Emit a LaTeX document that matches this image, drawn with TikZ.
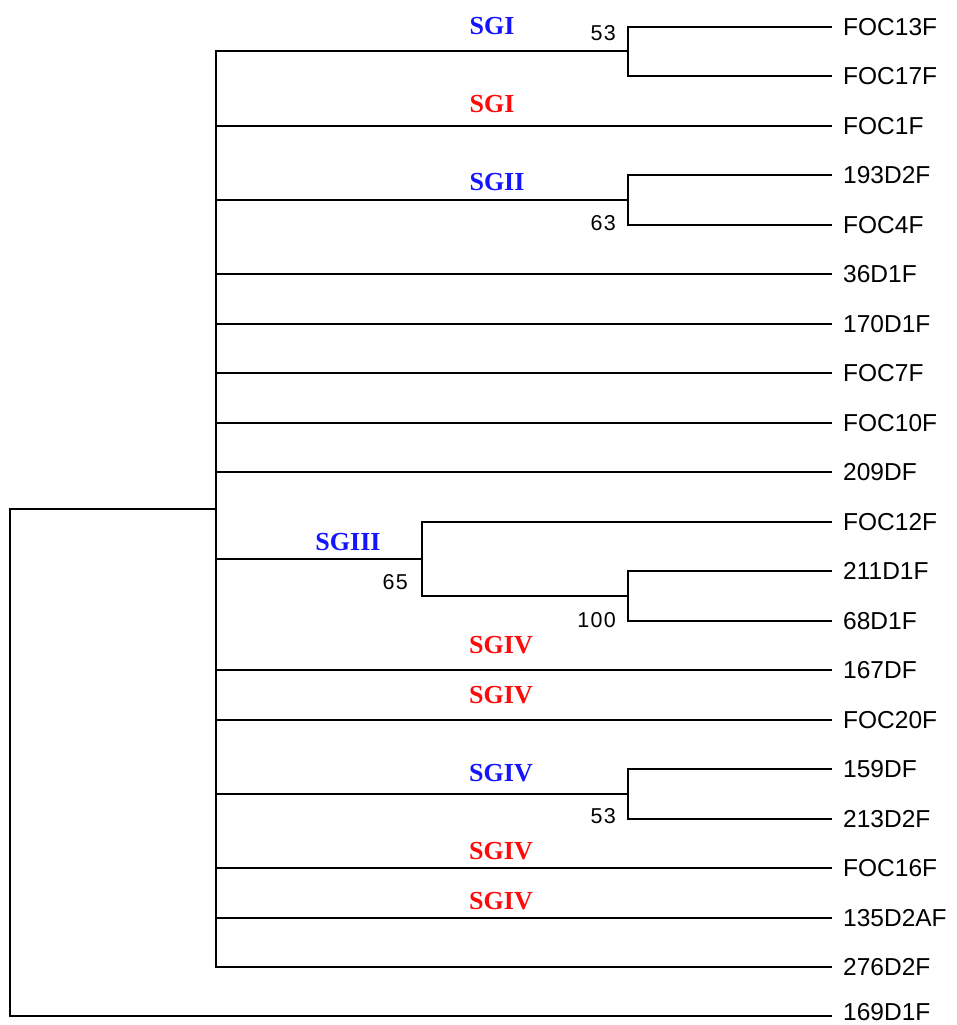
\documentclass[tikz,border=0pt]{standalone}
\usepackage{fontspec}
\setmainfont{Liberation Sans}
\newfontfamily\leaffont{Liberation Sans}
\newfontfamily\bootfont[LetterSpace=6]{Liberation Sans}
\newfontfamily\sgfont{Liberation Serif}
\definecolor{sgblue}{RGB}{20,20,255}
\definecolor{sgred}{RGB}{255,10,10}
\tikzset{
  br/.style={draw=black, line width=2pt},
  leaf/.style={anchor=west, inner sep=0pt, font=\leaffont\fontsize{24.5}{24.5}\selectfont},
  boot/.style={anchor=base east, inner sep=0pt, font=\bootfont\fontsize{21.5}{21.5}\selectfont},
  sgb/.style={anchor=base, inner sep=0pt, text=sgblue, font=\sgfont\bfseries\fontsize{26}{26}\selectfont},
  sgr/.style={anchor=base, inner sep=0pt, text=sgred, font=\sgfont\bfseries\fontsize{26}{26}\selectfont}
}
\begin{document}
\begin{tikzpicture}[x=1pt,y=-1pt]
\useasboundingbox[fill=white] (0,0) rectangle (956,1025);
% tips
\foreach \i/\lab in {0/FOC13F,1/FOC17F,2/FOC1F,3/193D2F,4/FOC4F,5/36D1F,6/170D1F,7/FOC7F,8/FOC10F,9/209DF,10/FOC12F,11/211D1F,12/68D1F,13/167DF,14/FOC20F,15/159DF,16/213D2F,17/FOC16F,18/135D2AF,19/276D2F}{
  \coordinate (t\i) at (832,{26.7+49.5*\i});
  \node[leaf] (n\i) at (843,{26.7+49.5*\i}) {\lab};
}
\coordinate (tout) at (832,1016);
\node[leaf] (nout) at (843,1012) {169D1F};
% internal nodes
\coordinate (a1) at (628,{26.7+49.5*0.5});
\coordinate (a2) at (628,{26.7+49.5*3.5});
\coordinate (a3) at (628,{26.7+49.5*11.5});
\coordinate (a4) at (628,{26.7+49.5*15.5});
\coordinate (s3) at (422,{(26.7+49.5*10 + 26.7+49.5*11.5)/2});
\coordinate (m) at (216,{(26.7+49.5*0.5 + 26.7+49.5*19)/2});
\coordinate (r) at (10,{((26.7+49.5*0.5 + 26.7+49.5*19)/2 + 1016)/2});
% branches
\draw[br] (a1) |- (t0); \draw[br] (a1) |- (t1);
\draw[br] (a2) |- (t3); \draw[br] (a2) |- (t4);
\draw[br] (a3) |- (t11); \draw[br] (a3) |- (t12);
\draw[br] (a4) |- (t15); \draw[br] (a4) |- (t16);
\draw[br] (s3) |- (t10); \draw[br] (s3) |- (a3);
\foreach \c in {a1,t2,a2,t5,t6,t7,t8,t9,s3,t13,t14,a4,t17,t18,t19}{
  \draw[br] (m) |- (\c);
}
\draw[br] (r) |- (m); \draw[br] (r) |- (tout);
% bootstrap values
\node[boot] (b1) at (616,41) {53};
\node[boot] (b2) at (616,230) {63};
\node[boot] (b3) at (408,589) {65};
\node[boot] (b4) at (616,627) {100};
\node[boot] (b5) at (616,823) {53};
% subgroup labels
\node[sgb] (g1) at (492,34.3) {SGI};
\node[sgr] (g2) at (492,112.7) {SGI};
\node[sgb] (g3) at (497,190) {SGII};
\node[sgb] (g4) at (348,550) {SGIII};
\node[sgr] (g5) at (501,653.3) {SGIV};
\node[sgr] (g6) at (501,703.3) {SGIV};
\node[sgb] (g7) at (501,781.7) {SGIV};
\node[sgr] (g8) at (501,859.3) {SGIV};
\node[sgr] (g9) at (501,909.3) {SGIV};
\end{tikzpicture}
\end{document}
